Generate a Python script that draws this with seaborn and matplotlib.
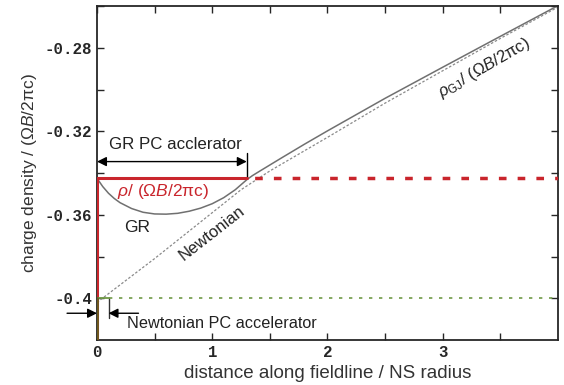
import matplotlib
matplotlib.use("Agg")
import matplotlib.pyplot as plt
import pandas as pd
import seaborn as sns

# values
gr_dist = [0, 0.05, 0.1, 0.15, 0.2, 0.3, 0.4, 0.5, 0.6, 0.7, 0.8, 0.9, 1.0, 1.1,
           1.2, 1.3, 1.35, 1.4, 1.6, 1.8, 2.0, 2.5, 3.0, 3.5, 4.0]
gr_rho = [-0.3425, -0.3465, -0.3497, -0.3522, -0.3542, -0.3570, -0.3588, -0.3596,
          -0.3597, -0.3593, -0.3583, -0.3568, -0.3547, -0.3518, -0.3480, -0.3432,
          -0.3412, -0.3395, -0.3328, -0.3262, -0.3198, -0.3042, -0.2893, -0.2745,
          -0.2598]
newt_dist = [0, 0.5, 1.0, 1.25, 1.5, 2.0, 2.5, 3.0, 3.5, 4.0]
newt_rho = [-0.402, -0.381, -0.359, -0.348, -0.339, -0.3229, -0.3065, -0.2910,
            -0.2755, -0.2605]

gr_gap_end = 1.3       # end of GR polar-cap accelerator
gr_rho_gap = -0.3425   # rho inside GR accelerator
newt_gap_end = 0.1     # end of Newtonian accelerator
newt_rho_gap = -0.4

yticks = [-0.28, -0.32, -0.36, -0.4]
ytick_labels = ["-0.28", "-0.32", "-0.36", "-0.4"]
xticks = [0, 1, 2, 3]

sns.set_style("ticks")
plt.rcParams["font.family"] = ["Liberation Sans", "DejaVu Sans"]
plt.rcParams["mathtext.fontset"] = "custom"
plt.rcParams["mathtext.rm"] = "Liberation Sans"
plt.rcParams["mathtext.it"] = "Liberation Sans:italic"

red = "#c9252c"
green = "#6f9a45"
grey = "#707070"
txt = "#222222"

fig, ax = plt.subplots(figsize=(5.64, 3.85), dpi=100)
fig.subplots_adjust(left=0.172, right=0.989, bottom=0.117, top=0.984)

df_gr = pd.DataFrame({"x": gr_dist, "rho": gr_rho})
df_newt = pd.DataFrame({"x": newt_dist, "rho": newt_rho})

sns.lineplot(data=df_gr, x="x", y="rho", ax=ax, color=grey, lw=1.1, sort=False)
sns.lineplot(data=df_newt, x="x", y="rho", ax=ax, color="#8a8a8a", lw=0.9,
             ls=(0, (2, 1.5)))

# GR accelerator rho (solid) and outside (dashed)
ax.plot([0, 0, gr_gap_end], [-0.42, gr_rho_gap, gr_rho_gap], color=red, lw=2.2,
        solid_joinstyle="miter", zorder=4)
ax.plot([gr_gap_end, 4], [gr_rho_gap, gr_rho_gap], color=red, lw=2.5,
        ls=(3.2, (2.2, 3.2)), dash_capstyle="butt", zorder=4)

# Newtonian accelerator
ax.plot([0, newt_gap_end], [newt_rho_gap, newt_rho_gap], color=green, lw=1.3, zorder=4)
ax.plot([0, 0], [-0.42, newt_rho_gap], color="#6b5a1e", lw=2.0, zorder=5)
ax.plot([newt_gap_end, 4], [newt_rho_gap, newt_rho_gap], color=green, lw=1.2,
        ls=(0, (2, 4)), zorder=3)

# annotations
ax.annotate("", xy=(0, -0.3345), xytext=(gr_gap_end, -0.3345),
            arrowprops=dict(arrowstyle="<|-|>", color="black", lw=1.0,
                            mutation_scale=14, shrinkA=0, shrinkB=0))
ax.plot([gr_gap_end, gr_gap_end], [-0.3305, gr_rho_gap], color="black", lw=1.0)
ax.text(0.1, -0.3265, "GR PC acclerator", fontsize=12.2, va="center", color=txt)

ax.text(0.17, -0.3487, "$\\rho$/ ($\\Omega B$/2$\\mathrm{\\pi}$c)", color=red,
        fontsize=12.5, va="center")
ax.text(0.35, -0.3663, "GR", fontsize=12.5, ha="center", va="center", color=txt)
ax.text(1.0, -0.3687, "Newtonian", fontsize=12, ha="center", va="center",
        rotation=38, color=txt)
ax.text(3.36, -0.2896, "$\\rho_{\\rm GJ}$/ ($\\Omega B$/2$\\mathrm{\\pi}$c)",
        fontsize=12, ha="center", va="center", rotation=30, color=txt)

ax.annotate("", xy=(0, -0.4072), xytext=(-0.26, -0.4072), annotation_clip=False,
            arrowprops=dict(arrowstyle="-|>", color="black", lw=1.0,
                            mutation_scale=14, shrinkA=0, shrinkB=0))
ax.annotate("", xy=(newt_gap_end, -0.4072), xytext=(0.36, -0.4072),
            arrowprops=dict(arrowstyle="-|>", color="black", lw=1.0,
                            mutation_scale=14, shrinkA=0, shrinkB=0))
ax.plot([newt_gap_end, newt_gap_end], [-0.4, -0.4095], color="#333333", lw=1.0)
ax.text(0.26, -0.4122, "Newtonian PC accelerator", fontsize=11.7, va="center",
        color=txt)

ax.set_xlim(0, 4)
ax.set_ylim(-0.42, -0.26)
ax.set_xticks(xticks)
ax.set_xticks([0.5, 1.5, 2.5, 3.5], minor=True)
ax.set_yticks(yticks)
ax.set_yticklabels(ytick_labels)
ax.set_yticks([-0.26, -0.30, -0.34, -0.38], minor=True)
for lab in ax.get_xticklabels() + ax.get_yticklabels():
    lab.set_family("Liberation Mono")
    lab.set_fontweight("bold")
    lab.set_fontsize(11.3)
ax.tick_params(which="both", direction="in", top=True, right=True, width=1.0)
ax.tick_params(which="major", length=5)
ax.tick_params(which="minor", length=5)
for s in ax.spines.values():
    s.set_linewidth(1.3)

ax.set_xlabel("distance along fieldline / NS radius", fontsize=13.5, color="#333333")
ax.set_ylabel("charge density / ($\\Omega B$/2$\\mathrm{\\pi}$c)", fontsize=12.5,
              color="#333333")

fig.savefig("out.png", dpi=100)
